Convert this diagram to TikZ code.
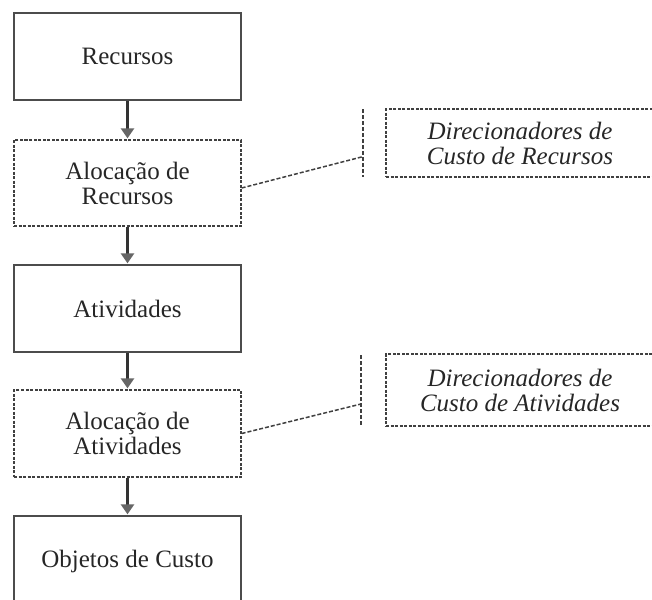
\documentclass[tikz,border=0pt]{standalone}
\usepackage{fontspec}
\setmainfont{Liberation Serif}
\usetikzlibrary{arrows.meta,calc}
\begin{document}
\begin{tikzpicture}[x=1pt,y=-1pt,
  every node/.style={font=\fontsize{25}{25}\selectfont, text=black!85, align=center},
  solidbox/.style={draw=black!70, line width=1.3pt, minimum width=227pt, inner sep=0pt},
  dashbox/.style={draw=black!75, line width=1.3pt, dash pattern=on 3pt off 1.5pt, minimum width=227pt, inner sep=0pt},
  drvbox/.style={draw=black!75, line width=1.3pt, dash pattern=on 3pt off 1.5pt, minimum width=268pt, inner sep=0pt, font=\fontsize{25}{25}\selectfont\itshape},
  flow/.style={draw=black!80, line width=2.8pt, -{Triangle[width=13pt,length=10pt,color=black!60]}, shorten >=1pt},
  link/.style={draw=black!75, line width=1.5pt, dash pattern=on 4pt off 2pt}
]
\useasboundingbox (0,0) rectangle (652,599);
\node[solidbox, minimum height=87pt] (rec) at (127.5,56.5) {Recursos};
\node[dashbox, minimum height=86pt] (alr) at (127.5,183) {Alocação de\\Recursos};
\node[solidbox, minimum height=87pt] (ati) at (127.5,308.5) {Atividades};
\node[dashbox, minimum height=87pt] (ala) at (127.5,433.5) {Alocação de\\Atividades};
\node[solidbox, minimum height=90pt] (obj) at (127.5,561) {Objetos de Custo};

\draw[flow] (rec.south) -- (alr.north);
\draw[flow] (alr.south) -- (ati.north);
\draw[flow] (ati.south) -- (ala.north);
\draw[flow] (ala.south) -- (obj.north);

\node[drvbox, minimum height=68pt] (dr1) at (520,143) {Direcionadores de\\Custo de Recursos};
\node[drvbox, minimum height=72pt] (dr2) at (520,390) {Direcionadores de\\Custo de Atividades};

\coordinate (t1a) at (363,109);
\coordinate (t1b) at (363,177);
\coordinate (t2a) at (361,355);
\coordinate (t2b) at (361,425);
\draw[link] (t1a) -- (t1b);
\draw[link] (t2a) -- (t2b);
\draw[link] ([yshift=-5pt]alr.east) -- ($(t1a)!0.7!(t1b)$);
\draw[link] (ala.east) -- ($(t2a)!0.7!(t2b)$);
\end{tikzpicture}
\end{document}
